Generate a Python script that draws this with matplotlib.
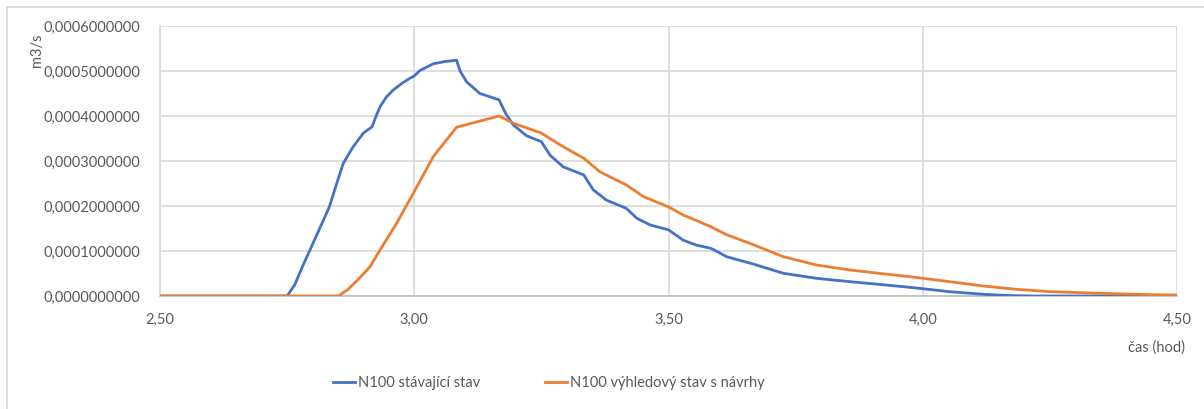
import matplotlib
matplotlib.use("Agg")
import matplotlib.pyplot as plt
from matplotlib.lines import Line2D
from matplotlib.ticker import FuncFormatter, MultipleLocator

# ---- data (time in hours, flow in m3/s) ----
t_blue = [2.50, 2.75, 2.765, 2.78, 2.80, 2.82, 2.833, 2.8475, 2.8605, 2.88, 2.90, 2.917,
          2.925, 2.933, 2.945, 2.959, 2.975, 2.9917, 3.00, 3.011, 3.0375, 3.06, 3.0833,
          3.09, 3.103, 3.129, 3.1667, 3.18, 3.195, 3.221, 3.25, 3.267, 3.293, 3.3333,
          3.352, 3.378, 3.4167, 3.4375, 3.4636, 3.50, 3.529, 3.555, 3.5833,
          3.6145, 3.6667, 3.726, 3.791, 3.857, 3.917, 3.975, 4.053, 4.119, 4.165, 4.22, 4.50]
q_blue = [0.0, 0.0, 0.000025, 0.000065, 0.000115, 0.000165, 0.000198, 0.000250, 0.000295,
          0.000332, 0.000362, 0.000376,
          0.000400, 0.000421, 0.000442, 0.000458, 0.000472, 0.000484, 0.000489, 0.000501,
          0.000516, 0.000521, 0.000524,
          0.000500, 0.000476, 0.000450, 0.000436, 0.000405, 0.000380, 0.000356, 0.000343,
          0.000313, 0.000287, 0.000269,
          0.000236, 0.000213, 0.000195, 0.000173, 0.000158, 0.000147, 0.000124, 0.000113, 0.000106,
          0.0000873, 0.0000710, 0.0000504, 0.0000393, 0.0000318, 0.0000255, 0.0000193, 0.0000096,
          0.0000038, 0.0000012, 0.0, 0.0]

t_orange = [2.50, 2.851, 2.87, 2.89, 2.913, 2.9326, 2.9655, 2.998, 3.0375, 3.0833,
            3.1667, 3.195, 3.25, 3.2866, 3.3333, 3.365, 3.4167, 3.4505, 3.50, 3.529, 3.5833,
            3.6145, 3.66, 3.726, 3.791, 3.857, 3.917, 3.975, 4.053, 4.119, 4.184, 4.25,
            4.3486, 4.447, 4.50]
q_orange = [0.0, 0.0, 0.000015, 0.000037, 0.0000651, 0.000102, 0.000162, 0.000228, 0.000310,
            0.000375, 0.000400, 0.000384, 0.000362, 0.000336, 0.000306, 0.000276, 0.000247,
            0.000221, 0.000198, 0.000180, 0.000154, 0.000136, 0.000117, 0.0000873, 0.0000689,
            0.0000578, 0.0000500, 0.0000429, 0.0000318, 0.0000222, 0.0000149, 0.0000096,
            0.0000060, 0.0000029, 0.0000022]

series_names = ["N100 stávající stav", "N100 výhledový stav s návrhy"]
x_label = "čas (hod)"
y_label = "m3/s"

# ---- style ----
plt.rcParams['font.family'] = ['Lato', 'DejaVu Sans']
text_color = "#595959"
grid_color = "#d9d9d9"
blue = "#4472C4"
orange = "#ED7D31"

fig = plt.figure(figsize=(12.04, 4.09), dpi=100)
ax = fig.add_axes([160/1204, 1-296/409, (1177-160)/1204, (296-26)/409])

ax.plot(t_blue, q_blue, color=blue, lw=2.0, label=series_names[0], zorder=3)
ax.plot(t_orange, q_orange, color=orange, lw=2.0, label=series_names[1], zorder=3)

ax.set_xlim(2.5, 4.5)
ax.set_ylim(0, 0.0006)
ax.xaxis.set_major_locator(MultipleLocator(0.5))
ax.yaxis.set_major_locator(MultipleLocator(0.0001))
ax.xaxis.set_major_formatter(FuncFormatter(lambda v, p: f"{v:.2f}".replace(".", ",")))
ax.yaxis.set_major_formatter(FuncFormatter(lambda v, p: f"{v:.10f}".replace(".", ",")))

ax.grid(True, color=grid_color, lw=1.2, zorder=0)
ax.set_axisbelow(True)
for s in ["top", "right"]:
    ax.spines[s].set_visible(False)
ax.spines["left"].set_color(grid_color)
ax.spines["left"].set_linewidth(1.2)
ax.spines["bottom"].set_color("#bfbfbf")
ax.spines["bottom"].set_linewidth(1.2)
ax.tick_params(axis="both", length=0, colors=text_color, labelsize=10.5)
ax.tick_params(axis="x", pad=12)
ax.tick_params(axis="y", pad=14)

fig.text(1185/1204, 1-348/409, x_label, ha="right", va="center", color=text_color, fontsize=10.5)
fig.text(37/1204, 1-50/409, y_label, ha="center", va="center", rotation=90,
         color=text_color, fontsize=10.5)

# legend entries, positioned like the reference
colors = [blue, orange]
anchors_x = [333/1204, 545/1204]
for name, col, ax_x in zip(series_names, colors, anchors_x):
    fig.legend([Line2D([0], [0], color=col, lw=2.0)], [name], loc="center left",
               bbox_to_anchor=(ax_x, 1-383/409), frameon=False, fontsize=10.5,
               handlelength=1.5, handletextpad=0.2, borderpad=0, borderaxespad=0,
               labelcolor=text_color)

# outer chart border (top and left visible)
fig.add_artist(Line2D([7/1204, 7/1204], [0, 1-7/409], transform=fig.transFigure,
                      color=grid_color, lw=1.2))
fig.add_artist(Line2D([7/1204, 1], [1-7/409, 1-7/409], transform=fig.transFigure,
                      color=grid_color, lw=1.2))

fig.savefig("out.png", dpi=100)
